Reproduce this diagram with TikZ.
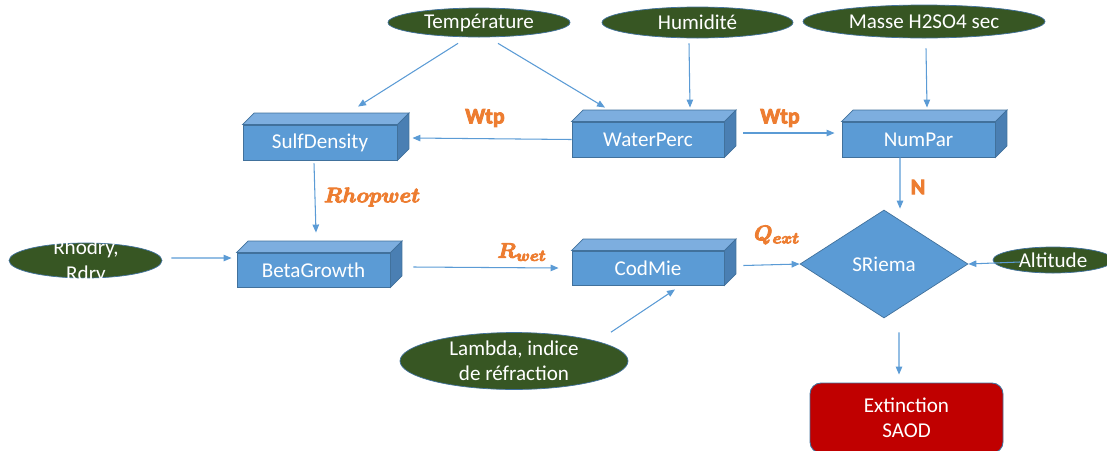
\documentclass[tikz,border=0pt]{standalone}
\usepackage{bm}
\usepackage{fontspec}
\setmainfont{Carlito}
\usetikzlibrary{shapes.geometric,arrows.meta}
\definecolor{boxblue}{HTML}{5B9BD5}
\definecolor{boxedge}{HTML}{41719C}
\definecolor{boxtop}{HTML}{7DAEDF}
\definecolor{boxside}{HTML}{4A7FB3}
\definecolor{leaf}{HTML}{375623}
\definecolor{lblorange}{HTML}{ED7D31}
\definecolor{extred}{HTML}{C00000}
\newcommand{\heavy}[1]{\special{pdf:literal 2 Tr 0.5 w}#1\special{pdf:literal 0 Tr}}
\tikzstyle{every node}=[font=\fontsize{12}{14.5}\selectfont,text=white]
\tikzstyle{procbox}=[draw=boxedge,fill=boxblue,line width=0.5pt,minimum height=0.7cm]
\tikzstyle{inputel}=[ellipse,draw=boxedge,fill=leaf,line width=0.4pt,inner sep=0pt]
\tikzstyle{arr}=[draw=boxblue,line width=0.6pt,-{Triangle[length=1.6mm,width=1.3mm]}]
\tikzstyle{flowlbl}=[text=lblorange,font=\fontsize{12.5}{14}\selectfont\bfseries]

\begin{document}
\begin{tikzpicture}
\useasboundingbox (0,0) rectangle (22.14,-9);
% inputs
\node (temp) [inputel,minimum width=3.64cm,minimum height=0.58cm] at (9.58,-0.45) {Température};
\node (humid) [inputel,minimum width=3.82cm,minimum height=0.62cm] at (13.95,-0.45) {Humidité};
\node (masse) [inputel,minimum width=4.84cm,minimum height=0.66cm] at (18.48,-0.43) {Masse H2SO4 sec};
\node (rhodry) [inputel,minimum width=3.06cm,minimum height=0.7cm] at (1.71,-5.21) {};
\node (rhodrytxt) [align=center] at (1.72,-5.24) {Rhodry,\\Rdry};
\node (alt) [inputel,minimum width=2.4cm,minimum height=0.52cm] at (21.06,-5.2) {Altitude};
\node (lambda) [inputel,minimum width=4.56cm,minimum height=0.96cm,align=center] at (10.28,-7.22) {Lambda, indice\\de réfraction};
% routines
\node (sulf) [procbox,minimum width=3.08cm] at (6.4,-2.85) {SulfDensity};
\node (water) [procbox,minimum width=3.04cm] at (12.96,-2.79) {WaterPerc};
\node (num) [procbox,minimum width=3.06cm] at (18.37,-2.79) {NumPar};
\node (beta) [procbox,minimum width=3.06cm,minimum height=0.68cm] at (6.27,-5.4) {BetaGrowth};
\node (cod) [procbox,minimum width=3.04cm,minimum height=0.68cm] at (12.96,-5.36) {CodMie};
\foreach \n in {sulf,water,num,beta,cod} {
  \filldraw[fill=boxtop,draw=boxedge,line width=0.4pt] (\n.north west) -- ++(0.23,0.23) -- ([shift={(0.23,0.23)}]\n.north east) -- (\n.north east) -- cycle;
  \filldraw[fill=boxside,draw=boxedge,line width=0.4pt] (\n.north east) -- ++(0.23,0.23) -- ([shift={(0.23,0.23)}]\n.south east) -- (\n.south east) -- cycle;
}
\node (sriema) [diamond,draw=boxedge,fill=boxblue,line width=0.4pt,minimum width=3.36cm,minimum height=2.16cm,inner sep=0pt] at (17.68,-5.28) {SRiema};
\node (ext) [draw=boxedge,fill=extred,rounded corners=0.22cm,line width=0.5pt,minimum width=3.86cm,minimum height=1.4cm,align=center] at (18.13,-8.36) {Extinction\\SAOD};
% connectors
\draw[arr] ([shift={(-0.42,-0.12)}]temp.south) -- ([shift={(0.76,0.36)}]sulf.north);
\draw[arr] ([shift={(0.38,-0.12)}]temp.south) -- ([shift={(-0.86,0.28)}]water.north);
\draw[arr] ([shift={(-0.17,-0.1)}]humid.south) -- ([shift={(0.84,0.28)}]water.north);
\draw[arr] ([shift={(0.04,-0.2)}]masse.south) -- ([shift={(0.17,0.28)}]num.north);
\draw[arr] (water.west) -- ([shift={(0.3,0.09)}]sulf.east);
\draw[arr] ([shift={(0.38,0.13)}]water.east) -- ([shift={(-0.14,0.13)}]num.west);
\draw[arr] ([shift={(-0.12,-0.06)}]sulf.south) -- ([shift={(0.05,0.4)}]beta.north);
\draw[arr] ([shift={(-0.37,0)}]num.south) -- ([shift={(0.32,0.02)}]sriema.north);
\draw[arr] ([shift={(0.18,0.05)}]rhodry.east) -- ([shift={(-0.1,0.24)}]beta.west);
\draw[arr] ([shift={(0.46,0.06)}]beta.east) -- ([shift={(-0.26,0)}]cod.west);
\draw[arr] ([shift={(0.38,0.05)}]cod.east) -- (sriema.west);
\draw[arr] ([shift={(-0.66,-0.04)}]alt.center) -- (sriema.east);
\draw[arr] ([shift={(1.94,0)}]lambda.north) -- ([shift={(0.54,-0.08)}]cod.south);
\draw[arr] ([shift={(0.3,-0.28)}]sriema.south) -- ([shift={(-0.15,0.16)}]ext.north);
% labels
\node (wtpa) [flowlbl] at (9.7,-2.36) {\heavy{Wtp}};
\node (wtpb) [flowlbl] at (15.6,-2.36) {\heavy{Wtp}};
\node (rhop) [flowlbl] at (7.44,-3.94) {\heavy{$\bm{Rhopwet}$}};
\node (nlbl) [flowlbl] at (18.36,-3.74) {\heavy{N}};
\node (rwet) [flowlbl] at (10.44,-5.04) {\heavy{$\bm{R_{wet}}$}};
\node (qext) [flowlbl] at (15.54,-4.7) {\heavy{$\bm{Q_{ext}}$}};
\end{tikzpicture}
\end{document}
